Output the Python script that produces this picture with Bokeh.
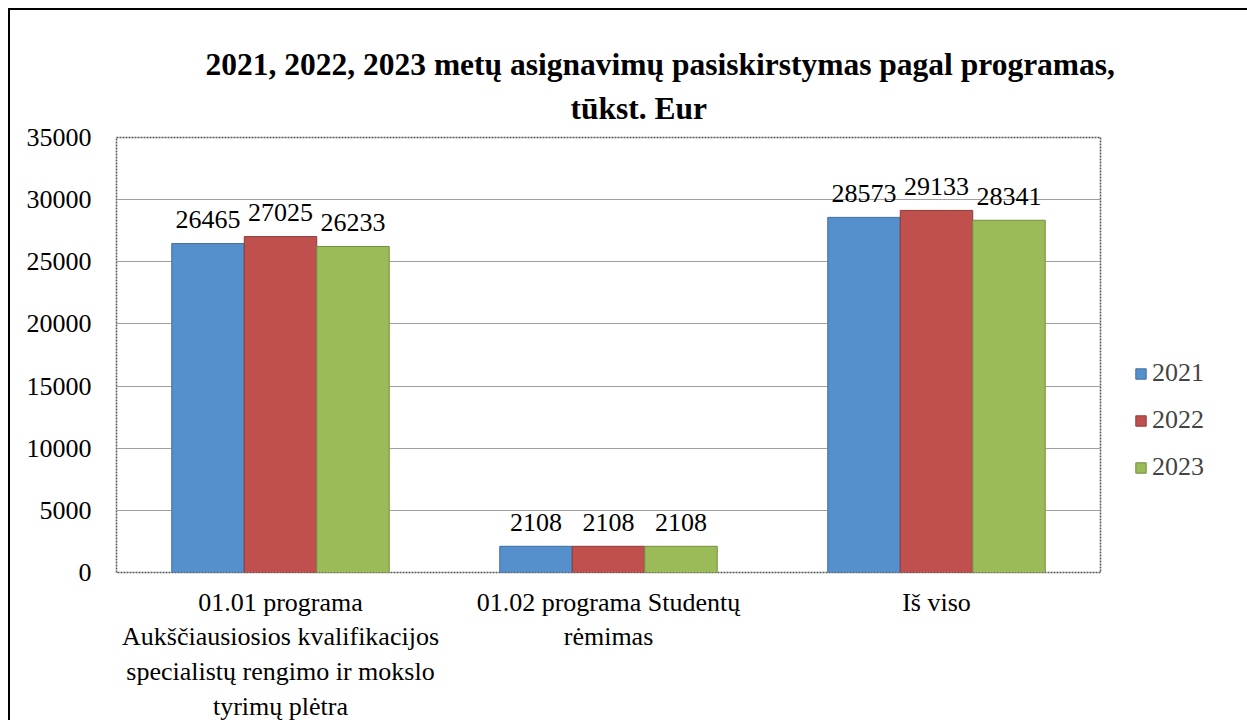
from bokeh.plotting import figure
from bokeh.models import ColumnDataSource, FactorRange, Range1d, FixedTicker, Legend, LegendItem, Title
from bokeh.transform import dodge
from bokeh.core.properties import value
from bokeh.embed import file_html
from bokeh.resources import INLINE

categories = [
    "01.01 programa\nAukščiausiosios kvalifikacijos\nspecialistų rengimo ir mokslo\ntyrimų plėtra",
    "01.02 programa Studentų\nrėmimas",
    "Iš viso",
]
years = ["2021", "2022", "2023"]
v2021 = [26465, 2108, 28573]
v2022 = [27025, 2108, 29133]
v2023 = [26233, 2108, 28341]
y_ticks = [0, 5000, 10000, 15000, 20000, 25000, 30000, 35000]
title_line1 = "2021, 2022, 2023 metų asignavimų pasiskirstymas pagal programas,"
title_line2 = "tūkst. Eur"

colors = ["#5590CC", "#C0504D", "#9BBB59"]
outlines = ["#3E6E9E", "#8E3A38", "#738C40"]
FONT = "Liberation Serif"

src = ColumnDataSource(dict(cat=categories, v2021=v2021, v2022=v2022, v2023=v2023,
                            l2021=[str(v) for v in v2021], l2022=[str(v) for v in v2022],
                            l2023=[str(v) for v in v2023]))

p = figure(frame_width=984, frame_height=435, x_range=FactorRange(*categories, range_padding=0),
           y_range=Range1d(0, 35000), output_backend="svg", toolbar_location=None,
           min_border_left=106, min_border_right=138, min_border_top=127, min_border_bottom=148,
           styles={"margin-left": "8px", "margin-top": "8px",
                   "border-left": "2px solid black", "border-top": "2px solid black",
                   "border-right": "2px solid black"})

p.outline_line_color = "#555555"
p.outline_line_dash = "2 1"
p.outline_line_width = 1.5
p.xgrid.grid_line_color = None
p.ygrid.grid_line_color = "#A0A0A0"
p.ygrid.grid_line_width = 1
p.yaxis.ticker = FixedTicker(ticks=y_ticks)
for ax in (p.xaxis[0], p.yaxis[0]):
    ax.axis_line_color = None
    ax.major_tick_line_color = None
    ax.minor_tick_line_color = None
    ax.major_label_text_font = FONT
    ax.major_label_text_font_size = "26px"
    ax.major_label_text_color = "black"
p.yaxis.major_label_standoff = 19
p.xaxis.major_label_standoff = 9

offsets = [-0.221, 0.0, 0.221]
legend_items = []
for yr, off, c, oc in zip(years, offsets, colors, outlines):
    r = p.vbar(x=dodge("cat", off, range=p.x_range), top="v" + yr, width=0.221, source=src,
               fill_color=c, line_color=oc, line_width=1)
    p.text(x=dodge("cat", off, range=p.x_range), y="v" + yr, text="l" + yr, source=src,
           text_align="center", text_baseline="alphabetic", y_offset=-24,
           text_font=value(FONT), text_font_size="26px", text_color="black")
    legend_items.append(LegendItem(label=yr, renderers=[r]))

legend = Legend(items=legend_items, location="top_left", border_line_color=None,
                background_fill_alpha=0, label_text_font=FONT, label_text_font_size="26px",
                glyph_width=13, glyph_height=13, label_standoff=5, spacing=17, padding=0,
                margin=34, title=" ", title_text_font_size="26px", title_standoff=156)
p.add_layout(legend, "right")

p.add_layout(Title(text=title_line2, align="left", offset=454, standoff=23,
                   text_font=FONT, text_font_size="31.5px", text_font_style="bold",
                   text_color="black"), "above")
p.add_layout(Title(text=title_line1, align="left", offset=89, standoff=-9,
                   text_font=FONT, text_font_size="31.5px", text_font_style="bold",
                   text_color="black"), "above")

open("out.html", "w").write(file_html(p, INLINE))
